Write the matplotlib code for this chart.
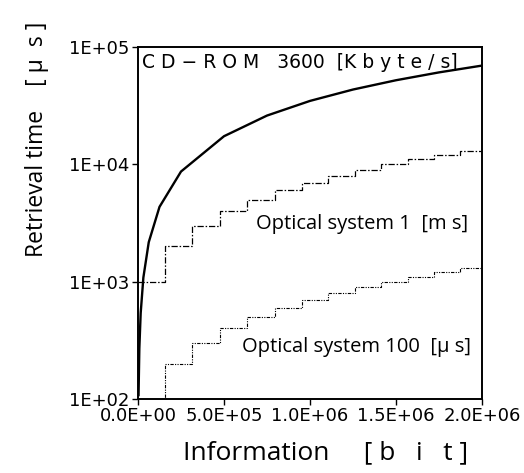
import matplotlib
matplotlib.use("Agg")
import matplotlib.pyplot as plt

# CD-ROM 3600 kbyte/s retrieval time (µs) vs information (bit)
cd_bits = [3125, 7800, 15600, 31250, 62500, 125000, 250000, 500000, 750000, 1000000,
           1250000, 1500000, 1750000, 2000000]
cd_time = [108, 270, 540, 1085, 2170, 4340, 8680, 17360, 26040, 34720,
           43400, 52080, 60760, 69440]

# Step edges (bit) shared by optical systems
step_edges = [0, 157e3, 316e3, 477e3, 636e3, 795e3, 952e3, 1107e3, 1260e3, 1415e3, 1570e3, 1722e3, 1870e3, 2000e3]
# Optical system 1 [ms] levels (µs)
opt1_time = [1000, 2000, 3000, 4000, 5000, 6000, 7000, 8000, 9000, 10000, 11000, 12000, 13000]
# Optical system 100 [µs] levels (µs)
opt100_time = [100, 200, 300, 400, 500, 600, 700, 800, 900, 1000, 1100, 1200, 1300]

xticks = [0, 5e5, 1e6, 1.5e6, 2e6]
xticklabels = ["0.0E+00", "5.0E+05", "1.0E+06", "1.5E+06", "2.0E+06"]
yticks = [1e2, 1e3, 1e4, 1e5]
yticklabels = ["1E+02", "1E+03", "1E+04", "1E+05"]

fig = plt.figure(figsize=(5.24, 4.73), dpi=100)
ax = fig.add_axes([138/524, 1 - 399/473, (482-138)/524, (399-47)/473])

ax.plot(cd_bits, cd_time, color="black", lw=1.7)
ax.step(step_edges, opt1_time + [opt1_time[-1]], where="post", color="black", lw=0.9,
        linestyle=(0, (5, 1.5, 1.2, 1.5)))
ax.step(step_edges, opt100_time + [opt100_time[-1]], where="post", color="black", lw=0.8,
        linestyle=(0, (3, 1.2, 1, 1.2, 1, 1.2)))

ax.set_yscale("log")
ax.set_xlim(0, 2e6)
ax.set_ylim(1e2, 1e5)
ax.set_xticks(xticks)
ax.set_xticklabels(xticklabels)
ax.set_yticks(yticks)
ax.set_yticklabels(yticklabels)
ax.minorticks_off()
ax.tick_params(direction="out", length=4, width=1, labelsize=13, pad=2)
for s in ax.spines.values():
    s.set_linewidth(1.4)

ff = "DejaVu Sans"
for lab in ax.get_xticklabels() + ax.get_yticklabels():
    lab.set_family(ff)

ax.text(0.012, 0.955, "C D − R O M   3600  [K b y t e / s]", transform=ax.transAxes,
        fontsize=13.5, ha="left", va="center", family=ff)
ax.text(256/524, 1 - 224/473, "Optical system 1  [m s]", transform=fig.transFigure,
        fontsize=14.5, ha="left", va="center", family="Open Sans")
ax.text(242/524, 1 - 347/473, "Optical system 100  [μ s]", transform=fig.transFigure,
        fontsize=14.5, ha="left", va="center", family="Open Sans")

fig.text(37/524, 1 - 257/473, "Retrieval time    [ μ  s ]", rotation=90, ha="center", va="bottom",
         fontsize=16.5, family="Open Sans")
fig.text(183/524, 1 - 453/473, "Information     [ b   i   t ]", ha="left", va="center",
         fontsize=19, family="Open Sans")

fig.savefig("out.png", dpi=100)
